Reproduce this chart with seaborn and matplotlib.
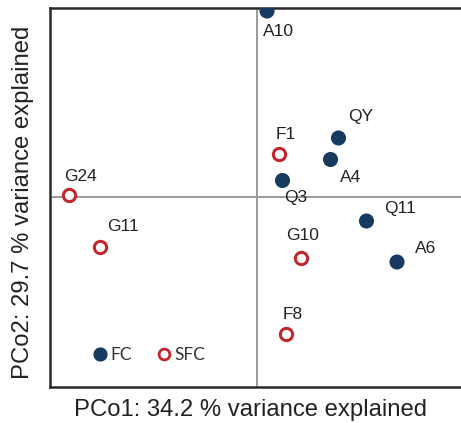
import matplotlib
matplotlib.use("Agg")
import matplotlib.pyplot as plt
import seaborn as sns
import pandas as pd
from matplotlib.lines import Line2D

# Data
samples = ["A10", "QY", "A4", "Q3", "Q11", "A6", "F1", "G24", "G11", "G10", "F8"]
pco1 = [0.020, 0.163, 0.147, 0.051, 0.219, 0.280, 0.043, -0.377, -0.314, 0.087, 0.058]
pco2 = [0.373, 0.119, 0.076, 0.034, -0.047, -0.129, 0.087, 0.005, -0.099, -0.120, -0.273]
groups = ["FC", "FC", "FC", "FC", "FC", "FC", "SFC", "SFC", "SFC", "SFC", "SFC"]

df = pd.DataFrame({"sample": samples, "PCo1": pco1, "PCo2": pco2, "group": groups})

# label offsets in pixels (left edge, vertical centre)
label_offsets = {
    "A10": (-4, -21), "QY": (10, 22), "A4": (9, -18), "Q3": (2, -17),
    "Q11": (18, 13), "A6": (18, 14), "F1": (-3, 20), "G24": (-4, 19),
    "G11": (7, 21), "G10": (-14, 22), "F8": (-3, 20),
}

navy = "#173a61"
red = "#c1272d"

sns.set_theme(style="white")
plt.rcParams["font.family"] = ["Liberation Sans", "DejaVu Sans"]

W, H = 461, 423
left_px, right_px, top_px, bottom_px = 50, 470, 8, 387
ax_w = right_px - left_px
ax_h = bottom_px - top_px
fig = plt.figure(figsize=(W / 100, H / 100), dpi=100)
ax = fig.add_axes([left_px / W, 1 - bottom_px / H, ax_w / W, ax_h / H])

fc = df[df.group == "FC"]
sfc = df[df.group == "SFC"]
sns.scatterplot(data=fc, x="PCo1", y="PCo2", ax=ax, s=118, color=navy,
                edgecolor="none", linewidth=0, zorder=3, legend=False)
sns.scatterplot(data=sfc, x="PCo1", y="PCo2", ax=ax, s=78, facecolor="white",
                edgecolor=red, linewidth=2.2, zorder=3, legend=False)

ax.axvline(0, color="#9a9a9a", lw=1.4, zorder=1)
ax.axhline(0, color="#9a9a9a", lw=1.4, zorder=1)

for _, r in df.iterrows():
    dx, dy = label_offsets[r["sample"]]
    ax.annotate(r["sample"], (r["PCo1"], r["PCo2"]), xytext=(dx, dy),
                textcoords="offset pixels", ha="left", va="center",
                fontsize=12.5, color="#222222", zorder=4)

ax.set_xlim(-0.414, 0.426)
ax.set_ylim(-0.379, 0.379)
ax.set_xticks([])
ax.set_yticks([])
ax.set_xlabel("PCo1: 34.2 % variance explained", fontsize=17.2, color="#222222")
ax.set_ylabel("PCo2: 29.7 % variance explained", fontsize=17.2, color="#222222")
ax.xaxis.set_label_coords((250.5 - left_px) / ax_w, (bottom_px - 410) / ax_h)
ax.yaxis.set_label_coords((23.5 - left_px) / ax_w, (bottom_px - 202.5) / ax_h)
ax.xaxis.label.set_va("center")
ax.yaxis.label.set_va("center")

for s in ["left", "top", "bottom"]:
    ax.spines[s].set_color("#2a2a2a")
    ax.spines[s].set_linewidth(1.8)
ax.spines["right"].set_visible(False)

handles = [
    Line2D([], [], marker="o", ls="none", color=navy, markersize=9.2, label="FC"),
    Line2D([], [], marker="o", ls="none", markerfacecolor="white", markeredgecolor=red,
           markeredgewidth=2, markersize=7.8, label="SFC"),
]
fs_leg = 12.5
handle_px = 1.0 * fs_leg * 100 / 72
leg = ax.legend(handles=handles, loc="center left",
                bbox_to_anchor=((100 - handle_px / 2 - left_px) / ax_w, (bottom_px - 355) / ax_h),
                ncol=2, frameon=False, borderpad=0, borderaxespad=0,
                handlelength=1.0, handletextpad=0.1, columnspacing=1.35,
                prop={"family": ["Lato", "DejaVu Sans"], "size": fs_leg})
for t in leg.get_texts():
    t.set_color("#333333")

fig.savefig("out.png", dpi=100)
